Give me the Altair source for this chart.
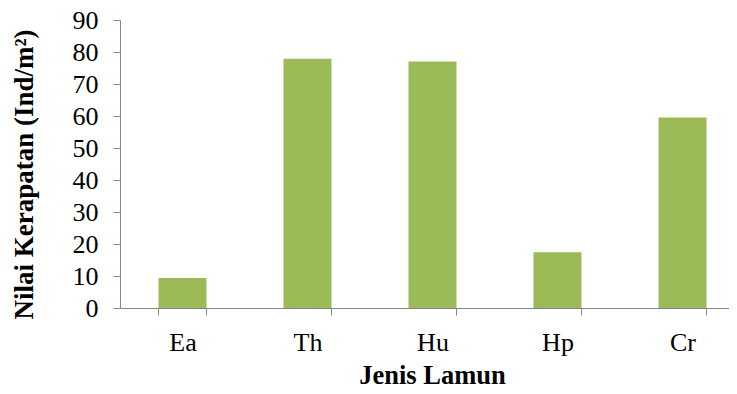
import altair as alt
import pandas as pd

categories = ["Ea", "Th", "Hu", "Hp", "Cr"]
values = [9.4, 77.9, 77.0, 17.4, 59.5]
y_ticks = [0, 10, 20, 30, 40, 50, 60, 70, 80, 90]

df = pd.DataFrame({"jenis": categories, "nilai": values})

FONT = "Liberation Serif"
AXIS_COLOR = "#868686"

chart = alt.Chart(df).mark_bar(color="#9BBB59").encode(
    x=alt.X(
        "jenis:N",
        sort=categories,
        scale=alt.Scale(paddingInner=0.616, paddingOuter=0.244, align=0.631),
        axis=alt.Axis(
            title="Jenis Lamun",
            labelAngle=0,
            labelFont=FONT,
            labelFontSize=26,
            labelColor="black",
            labelPadding=14,
            tickBand="extent",
            tickSize=7,
            tickColor=AXIS_COLOR,
            domainColor=AXIS_COLOR,
            titleFont=FONT,
            titleFontSize=26.5,
            titleFontWeight="bold",
            titleColor="black",
            titleBaseline="alphabetic",
            titleX=312,
            titleY=75,
        ),
    ),
    y=alt.Y(
        "nilai:Q",
        scale=alt.Scale(domain=[0, 90], nice=False),
        axis=alt.Axis(
            values=y_ticks,
            title="Nilai Kerapatan (Ind/m²)",
            grid=False,
            labelFont=FONT,
            labelFontSize=26,
            labelColor="black",
            labelPadding=15,
            tickSize=7,
            tickColor=AXIS_COLOR,
            domainColor=AXIS_COLOR,
            titleFont=FONT,
            titleFontSize=27,
            titleFontWeight="bold",
            titleColor="black",
            titleAngle=270,
            titleBaseline="alphabetic",
            titleX=-88,
            titleY=154,
        ),
    ),
).properties(
    width=609,
    height=288,
    autosize=alt.AutoSizeParams(type="none"),
    padding={"left": 112, "top": 12, "right": 0, "bottom": 78},
).configure_view(stroke=None)

chart.save("out.html", embed_options={"renderer": "svg", "actions": False})
